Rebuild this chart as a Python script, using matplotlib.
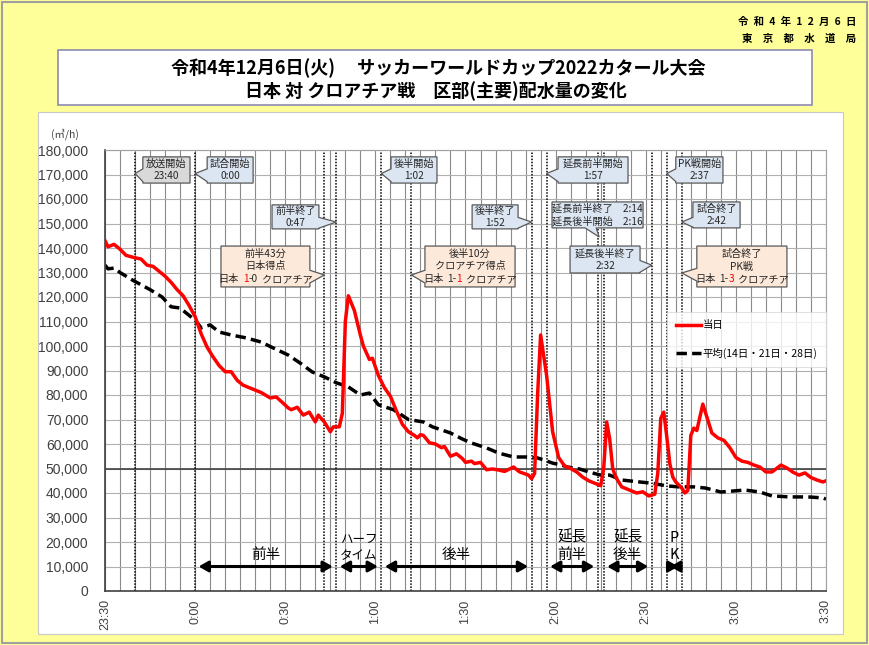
import matplotlib
matplotlib.use('Agg')
import matplotlib.pyplot as plt
from matplotlib.patches import Polygon, Rectangle
from matplotlib.lines import Line2D
from matplotlib.transforms import ScaledTranslation

plt.rcParams['font.family'] = ['Noto Sans CJK JP', 'DejaVu Sans']

# minutes after 23:30 and flow (m3/h)
today_t = [0, 1, 3, 5, 7, 10, 12, 14, 16, 18, 20, 22, 24, 26, 28, 30, 32, 34, 36, 38,
           40, 42, 44, 46, 48, 50, 52, 55, 57, 59, 61, 62, 64, 66, 68, 70, 71, 73, 75, 76,
           78, 79, 80, 81, 83, 85, 86, 88, 89, 91, 93, 95, 97, 99, 101, 103, 104, 105, 106, 108,
           110, 112, 113, 115, 117, 119, 120, 122, 123, 125, 127, 129, 131, 133, 135, 136, 138, 141, 142, 143,
           144, 145, 147, 149, 151, 153, 155, 157, 159, 161, 163, 165, 166, 167, 168, 169, 170, 172, 174, 177,
           179, 181, 183, 184, 185, 186, 187, 188, 189, 190, 192, 193, 194, 195, 196, 197, 199, 201, 202, 204,
           206, 208, 210, 212, 214, 216, 218, 220, 222, 223, 225, 227, 229, 231, 233, 235, 237, 239, 240]
today_v = [143000, 140500, 141500, 139500, 137000, 136000, 135500, 133000, 132500, 130500,
           128500, 126000, 123000, 120500, 116500, 112000, 105000, 99500, 95500, 92000,
           89500, 89500, 86000, 84000, 83000, 82000, 81000, 78800, 79200, 77000,
           74700, 74000, 75000, 71800, 73000, 69000, 71800, 69000, 65000, 67000,
           67000, 72500, 110000, 120500, 114500, 104500, 100000, 94500, 95000, 88000,
           83000, 79500, 73500, 68000, 65000, 63500, 62500, 63800, 63500, 60500,
           60000, 58500, 59000, 55000, 56000, 54000, 52500, 53000, 52000, 52500,
           49500, 49800, 49400, 48800, 50000, 50600, 48600, 47300, 45800, 48000,
           80000, 104500, 88000, 65000, 54500, 51000, 50000, 48600, 46500, 45000,
           44000, 43000, 50000, 69000, 62000, 50000, 46500, 42500, 41500, 40000,
           40500, 38800, 39500, 48000, 70500, 73000, 63000, 52000, 46500, 44500,
           42000, 40000, 41000, 63500, 66500, 65500, 76300, 68500, 64500, 62500,
           61500, 58500, 54500, 53000, 52500, 51400, 50600, 48600, 48600, 49500,
           51400, 50200, 48500, 47300, 48200, 46300, 45300, 44500, 45000]

avg_t = [0, 1, 3, 5, 9, 15, 19, 22, 25, 28, 30, 32, 35, 38, 42, 47, 52, 56, 61, 65,
         69, 73, 77, 81, 85, 88, 91, 96, 101, 106, 109, 115, 119, 122, 127, 131, 136, 140, 144, 146,
         149, 152, 154, 158, 161, 165, 168, 172, 178, 182, 187, 191, 196, 200, 205, 209, 213, 218, 222, 228,
         234, 239, 240]
avg_v = [133000, 131500, 131800, 130000, 127000, 123000, 120000, 116000, 115500, 112500,
         110600, 107400, 108600, 105700, 104500, 103300, 101600, 99200, 96300, 93000,
         89400, 87400, 85000, 83300, 80000, 80800, 76000, 74000, 70000, 69000,
         67000, 64500, 62000, 60400, 58400, 56300, 54700, 54700, 54300, 53500,
         52200, 51400, 50600, 49800, 48600, 47300, 47300, 45300, 44500, 44000,
         42900, 42500, 42500, 42000, 40400, 40800, 41200, 40400, 38800, 38400,
         38400, 38000, 37500]

tick_min = [0, 30, 60, 90, 120, 150, 180, 210, 240]
tick_lab = ['23:30', '0:00', '0:30', '1:00', '1:30', '2:00', '2:30', '3:00', '3:30']
event_min = [10, 30, 73, 77, 92, 102, 142, 147, 164, 166, 182, 187, 192]

period_lab = ['前半', 'ハーフ\nタイム', '後半', '延長\n前半', '延長\n後半', 'P\nK']
period_start = [30, 77, 92, 147, 166, 187]
period_end = [77, 92, 142, 164, 182, 192]

W, H = 870, 645
fig = plt.figure(figsize=(W / 100, H / 100), dpi=100)
fig.patch.set_facecolor('#ffff99')


def fx(x):
    return x / W


def fy(y):
    return 1 - y / H


fig.add_artist(Rectangle((0.002, 0.003), 0.995, 0.994, transform=fig.transFigure,
                         facecolor='none', edgecolor='#a0a0a0', lw=1.5, zorder=-2))
fig.add_artist(Rectangle((fx(38), fy(634)), fx(843 - 38), (634 - 112) / H, transform=fig.transFigure,
                         facecolor='white', edgecolor='#c8c8c8', lw=0.8, zorder=-1))
fig.add_artist(Rectangle((fx(58), fy(105)), fx(812 - 58), (105 - 50) / H, transform=fig.transFigure,
                         facecolor='white', edgecolor='#8c8cb0', lw=1.2, zorder=-1))

fig.text(fx(438), fy(68), '令和4年12月6日(火)　 サッカーワールドカップ2022カタール大会',
         ha='center', va='center', fontsize=13, fontweight='bold')
fig.text(fx(436), fy(91), '日本 対 クロアチア戦　区部(主要)配水量の変化',
         ha='center', va='center', fontsize=13, fontweight='bold')
fig.text(fx(856), fy(22), '令\u2002和\u20024\u2002年\u20021\u20022\u2002月\u20026\u2002日',
         ha='right', va='center', fontsize=7.5, fontweight='bold')
fig.text(fx(856), fy(39), '東　京　都　水　道　局', ha='right', va='center', fontsize=7.5, fontweight='bold')
fig.text(fx(65), fy(134), '(㎥/h)', ha='center', va='center', fontsize=7.5, color='#404040')

ax = fig.add_axes([fx(105), fy(591), fx(826 - 105), (591 - 150) / H])
ax.set_xlim(0, 240)
ax.set_ylim(0, 180000)
ax.set_xticks(tick_min)
ax.set_xticklabels(tick_lab, rotation=90, family='Liberation Sans', fontsize=9, color='#404040')
ax.set_xticks(range(0, 241, 5), minor=True)
ax.set_yticks(range(0, 180001, 10000))
ax.set_yticklabels([f'{v:,}' for v in range(0, 180001, 10000)],
                   family='Liberation Sans', fontsize=10, color='#404040')
ax.tick_params(which='both', length=0)
ax.tick_params(axis='y', pad=12)
ax.tick_params(axis='x', pad=6)
ax.grid(axis='x', which='both', color='#8a8a8a', lw=0.8)
ax.grid(axis='y', which='major', color='#b0b0b0', lw=0.8)
ax.set_axisbelow(True)
for s in ['top', 'right']:
    ax.spines[s].set_color('#a0a0a0')
for s in ['left', 'bottom']:
    ax.spines[s].set_color('#404040')
    ax.spines[s].set_linewidth(1.2)
ax.axhline(50000, color='#404040', lw=1.2, zorder=1)

for t in event_min:
    ax.axvline(t, color='black', lw=1.1, ls=(0, (1, 1)), zorder=1.5)

ax.plot(today_t, today_v, color='#ff0000', lw=2.5, zorder=3)
ax.plot(avg_t, avg_v, color='black', lw=2.5, ls=(0, (3, 1.5)), zorder=2.5)

# period arrows
for lab, a, b in zip(period_lab, period_start, period_end):
    ax.annotate('', xy=(b, 10000), xytext=(a, 10000),
                arrowprops=dict(arrowstyle='<|-|>,head_length=0.7,head_width=0.4', color='black',
                                lw=2.2, mutation_scale=8, shrinkA=2.5, shrinkB=2.5))
    fs = 9 if 'ハーフ' in lab else 10.5
    ax.text((a + b) / 2, 12000, lab, ha='center', va='bottom', fontsize=fs, linespacing=1.25)

rich = []


def rich_line(x, y, parts, fs=7.3):
    first = ax.text(x, y, parts[0][0], color=parts[0][1], ha='left', va='center',
                    fontsize=fs, zorder=7)
    texts = [first]
    gaps = 0.0
    for s, c, g in parts[1:]:
        t = ax.annotate(s, xy=(1, 0), xycoords=texts[-1], xytext=(g, 0),
                        textcoords='offset points', color=c, ha='left', va='bottom',
                        fontsize=fs, zorder=7)
        texts.append(t)
        gaps += g
    rich.append((texts, gaps))


def callout(x0, x1, y0, y1, tip, side, fc, lines, base=None):
    tx, ty = tip
    lo = max(ty - 3300, y0 + 300)
    hi = min(ty + 1900, y1 - 300)
    if side == 'left':
        v = [(x0, y1), (x1, y1), (x1, y0), (x0, y0), (x0, lo), (tx, ty), (x0, hi)]
    elif side == 'right':
        v = [(x0, y1), (x1, y1), (x1, hi), (tx, ty), (x1, lo), (x1, y0), (x0, y0)]
    else:
        v = [(x0, y1), (x1, y1), (x1, y0), (base[1], y0), (tx, ty), (base[0], y0), (x0, y0)]
    ax.add_patch(Polygon(v, closed=True, facecolor=fc, edgecolor='#595959', lw=0.9,
                         zorder=6, clip_on=False))
    n = len(lines)
    dy = 5100
    yc = (y0 + y1) / 2
    for i, ln in enumerate(lines):
        yy = yc + (n - 1) / 2 * dy - i * dy
        parts = ln if isinstance(ln, list) else [(ln, '#262626')]
        rich_line((x0 + x1) / 2, yy, parts)


BLUE, GREY, PEACH = '#dce6f2', '#d9d9d9', '#fde9d9'
K, R = '#262626', '#ff0000'

callout(12.6, 28.3, 166500, 177200, (10, 170400), 'left', GREY, ['放送開始', '23:40'])
callout(34, 49.3, 166500, 177200, (30, 170400), 'left', BLUE, ['試合開始', '0:00'])
callout(55.6, 71.2, 147800, 157600, (77, 150600), 'right', BLUE, ['前半終了', '0:47'])
callout(38.6, 68.2, 124100, 140800, (73, 129000), 'right', PEACH,
        ['前半43分', '日本得点', [('日本', K), ('1', R, 3), ('-0', K, 0), ('クロアチア', K, 3)]])
callout(95.2, 110.5, 166500, 177200, (92, 170400), 'left', BLUE, ['後半開始', '1:02'])
callout(122.2, 137.5, 147800, 157600, (142, 150600), 'right', BLUE, ['後半終了', '1:52'])
callout(106.5, 136.5, 124100, 140800, (102, 129000), 'left', PEACH,
        ['後半10分', 'クロアチア得点', [('日本', K), ('1-', K, 3), ('1', R, 0), ('クロアチア', K, 3)]])
callout(150.8, 174.1, 166500, 177200, (147, 170400), 'left', BLUE, ['延長前半開始', '1:57'])
callout(148.8, 179.1, 148200, 158800, (164.5, 144500), 'bottom', BLUE,
        ['延長前半終了　2:14', '延長後半開始　2:16'], base=(159.8, 163.5))
callout(154.8, 178.1, 129800, 140800, (182, 133000), 'right', BLUE, ['延長後半終了', '2:32'])
callout(190, 205.7, 166500, 177200, (187, 170400), 'left', BLUE, ['PK戦開始', '2:37'])
callout(195.7, 211.4, 148200, 158800, (192, 150600), 'left', BLUE, ['試合終了', '2:42'])
callout(197, 227, 124100, 140800, (192, 129800), 'left', PEACH,
        ['試合終了', 'PK戦', [('日本', K), ('1-', K, 3), ('3', R, 0), ('クロアチア', K, 3)]])

handles = [Line2D([], [], color='#ff0000', lw=2.5),
           Line2D([], [], color='black', lw=2.5, ls=(0, (3, 1.5)))]
leg = ax.legend(handles, ['当日', '平均(14日・21日・28日)'], loc='upper right',
                bbox_to_anchor=(1.0, 0.633), fontsize=7.5, frameon=True, fancybox=False,
                edgecolor='#d9d9d9', handlelength=2.4, handletextpad=0.2, labelspacing=1.7,
                borderpad=0.8, borderaxespad=0)
leg.get_frame().set_linewidth(0.8)
leg.set_zorder(8)

# center the multi-colour text lines
fig.canvas.draw()
r = fig.canvas.get_renderer()
for texts, gaps in rich:
    w = sum(t.get_window_extent(r).width for t in texts) + gaps * fig.dpi / 72
    texts[0].set_transform(ax.transData + ScaledTranslation(-w / 2 / fig.dpi, 0, fig.dpi_scale_trans))

fig.savefig('out.png', dpi=100, facecolor=fig.get_facecolor())
